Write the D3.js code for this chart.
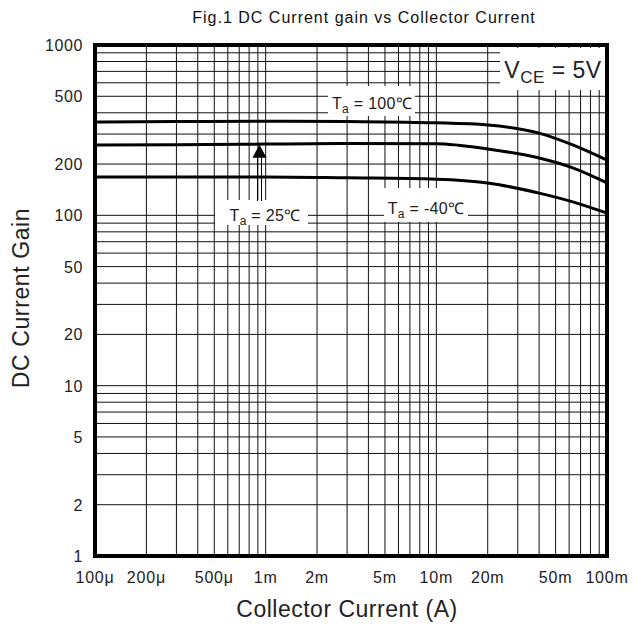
<!DOCTYPE html>
<html>
<head>
<meta charset="utf-8">
<script src="https://cdn.jsdelivr.net/npm/d3@7"></script>
<style>
  body { margin: 0; background: #fff; }
  text { font-family: "Liberation Sans", Arial, sans-serif; }
</style>
</head>
<body>
<div id="chart"></div>
<script>
// datos
var currents  = [1e-4, 3e-4, 1e-3, 3e-3, 1e-2, 2e-2, 4e-2, 6.3e-2, 1e-1];
var gain100   = [353, 355, 357, 355, 349, 339, 304, 259, 211];
var gain25    = [259, 260, 262, 264, 263, 245, 217, 190, 155];
var gainM40   = [168, 168, 168, 166, 163, 155, 135, 120, 103];

var xTickVals   = [1e-4, 2e-4, 5e-4, 1e-3, 2e-3, 5e-3, 1e-2, 2e-2, 5e-2, 1e-1];
var xTickLabels = ["100μ", "200μ", "500μ", "1m", "2m", "5m", "10m", "20m", "50m", "100m"];
var yTickVals   = [1, 2, 5, 10, 20, 50, 100, 200, 500, 1000];

var width = 637, height = 630;
var plotL = 95, plotR = 607, plotT = 45, plotB = 556;

var svg = d3.select("#chart").append("svg")
    .attr("width", width)
    .attr("height", height);

var x = d3.scaleLog().domain([1e-4, 1e-1]).range([plotL, plotR]);
var y = d3.scaleLog().domain([1, 1000]).range([plotB, plotT]);

// lineas de la rejilla (1..9 por decada)
var xGrid = [], yGrid = [];
[1e-4, 1e-3, 1e-2].forEach(function (dec) {
    for (var k = 1; k <= 9; k++) xGrid.push(dec * k);
});
xGrid.push(1e-1);
[1, 10, 100].forEach(function (dec) {
    for (var k = 1; k <= 9; k++) yGrid.push(dec * k);
});
yGrid.push(1000);

var grid = svg.append("g");
grid.selectAll("line.v").data(xGrid).enter().append("line")
    .attr("x1", d => x(d)).attr("x2", d => x(d))
    .attr("y1", plotT).attr("y2", plotB)
    .attr("stroke", "#111").attr("stroke-width", 1);
grid.selectAll("line.h").data(yGrid).enter().append("line")
    .attr("x1", plotL).attr("x2", plotR)
    .attr("y1", d => y(d)).attr("y2", d => y(d))
    .attr("stroke", "#111").attr("stroke-width", 1);

// cajas blancas de las etiquetas
var boxes = [
    {x0: 328, x1: 415, y0: 86, y1: 116},
    {x0: 215, x1: 308, y0: 200, y1: 225},
    {x0: 384, x1: 468, y0: 188, y1: 222},
    {x0: 500, x1: 605, y0: 48, y1: 90}
];
svg.append("g").selectAll("rect").data(boxes).enter().append("rect")
    .attr("x", d => d.x0).attr("y", d => d.y0)
    .attr("width", d => d.x1 - d.x0).attr("height", d => d.y1 - d.y0)
    .attr("fill", "#fff");

// curvas
var line = d3.line()
    .x(d => x(d[0]))
    .y(d => y(d[1]))
    .curve(d3.curveMonotoneX);

[gain100, gain25, gainM40].forEach(function (g) {
    svg.append("path")
        .datum(currents.map((c, i) => [c, g[i]]))
        .attr("d", line)
        .attr("fill", "none")
        .attr("stroke", "#000")
        .attr("stroke-width", 3);
});

// flecha Ta = 25
var ax = x(9.2e-4);
var tipY = y(260);
svg.append("line").attr("x1", ax - 2).attr("x2", ax - 2).attr("y1", tipY + 12).attr("y2", 201)
    .attr("stroke", "#000").attr("stroke-width", 1);
svg.append("line").attr("x1", ax + 2).attr("x2", ax + 2).attr("y1", tipY + 12).attr("y2", 201)
    .attr("stroke", "#000").attr("stroke-width", 1);
svg.append("path")
    .attr("d", "M" + ax + "," + tipY + "L" + (ax + 7) + "," + (tipY + 13) + "L" + (ax - 7) + "," + (tipY + 13) + "Z")
    .attr("fill", "#000");

// borde
svg.append("rect")
    .attr("x", plotL).attr("y", plotT)
    .attr("width", plotR - plotL).attr("height", plotB - plotT)
    .attr("fill", "none").attr("stroke", "#000").attr("stroke-width", 4);

// etiquetas de temperatura
function taLabel(cx, by, rest) {
    var t = svg.append("text")
        .attr("x", cx).attr("y", by)
        .attr("text-anchor", "middle")
        .style("font-size", "16px")
        .style("letter-spacing", "0.3px")
        .attr("fill", "#222");
    t.append("tspan").text("T");
    t.append("tspan").attr("dy", 4).style("font-size", "12px").text("a");
    t.append("tspan").attr("dy", -4).text(" = " + rest);
}
taLabel(372, 109, "100℃");
taLabel(265, 221, "25℃");
taLabel(426, 214, "-40℃");

// V_CE
var v = svg.append("text")
    .attr("x", 553).attr("y", 78)
    .attr("text-anchor", "middle")
    .style("font-size", "23px")
    .style("letter-spacing", "0.5px")
    .attr("fill", "#222");
v.append("tspan").text("V");
v.append("tspan").attr("dy", 5).style("font-size", "17px").text("CE");
v.append("tspan").attr("dy", -5).text(" = 5V");

// etiquetas de los ejes
svg.append("g").selectAll("text").data(yTickVals).enter().append("text")
    .attr("x", 83).attr("y", d => y(d) + 6)
    .attr("text-anchor", "end")
    .style("font-size", "16px")
    .style("letter-spacing", "0.6px")
    .attr("fill", "#222")
    .text(d => d);

svg.append("g").selectAll("text").data(xTickVals).enter().append("text")
    .attr("x", (d, i) => x(d)).attr("y", 583)
    .attr("text-anchor", "middle")
    .style("font-size", "16px")
    .style("letter-spacing", "0.8px")
    .attr("fill", "#222")
    .text((d, i) => xTickLabels[i]);

// titulos
svg.append("text")
    .attr("x", 364).attr("y", 23)
    .attr("text-anchor", "middle")
    .style("font-size", "16px")
    .style("letter-spacing", "1px")
    .attr("fill", "#111")
    .text("Fig.1  DC Current gain vs Collector Current");

svg.append("text")
    .attr("x", 347).attr("y", 617)
    .attr("text-anchor", "middle")
    .style("font-size", "23px")
    .style("letter-spacing", "0.5px")
    .attr("fill", "#222")
    .text("Collector Current (A)");

svg.append("text")
    .attr("transform", "translate(29,298) rotate(-90)")
    .attr("text-anchor", "middle")
    .style("font-size", "23px")
    .style("letter-spacing", "0.6px")
    .attr("fill", "#222")
    .text("DC Current Gain");
</script>
</body>
</html>
